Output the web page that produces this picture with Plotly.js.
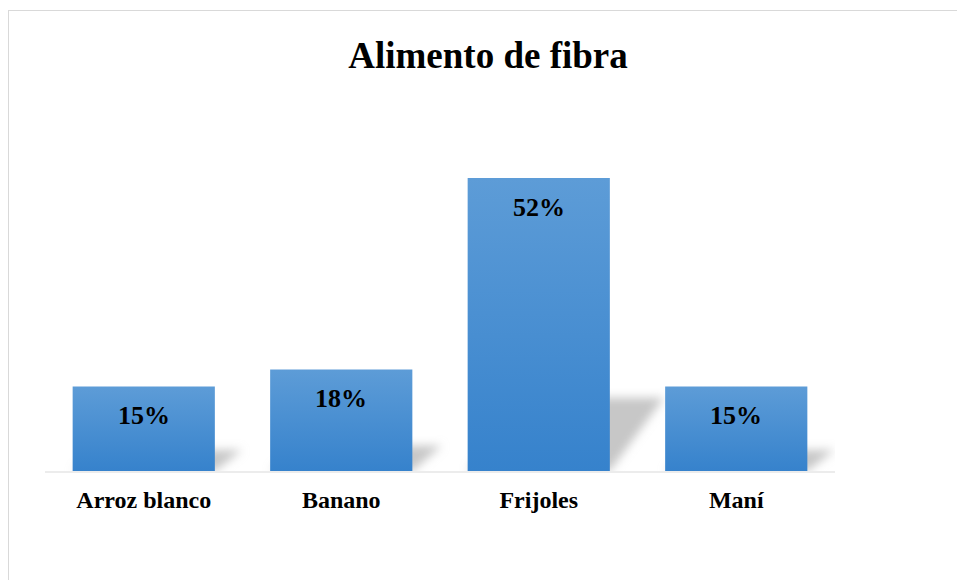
<!DOCTYPE html>
<html>
<head>
<meta charset="utf-8">
<script src="https://cdn.plot.ly/plotly-3.0.1.min.js"></script>
<style>
  html, body { margin: 0; padding: 0; background: #ffffff; }
  #wrap { position: relative; width: 957px; height: 580px; overflow: hidden; }
  #chart { position: absolute; left: 0; top: 0; width: 957px; height: 580px; }
  #frame { position: absolute; left: 8px; top: 10px; width: 980px; height: 620px;
           border: 1px solid #d9d9d9; pointer-events: none; }
</style>
</head>
<body>
<div id="wrap">
  <div id="chart"></div>
  <div id="frame"></div>
</div>
<script>
const categories = ["Arroz blanco", "Banano", "Frijoles", "Maní"];
const values = [15, 18, 52, 15];
const valueLabels = ["15%", "18%", "52%", "15%"];
const chartTitle = "Alimento de fibra";

const serif = "'Liberation Serif', 'Times New Roman', serif";

const trace = {
  type: "bar",
  x: categories,
  y: values,
  marker: { color: "#4a8fd2", line: { width: 0 } },
  hoverinfo: "none"
};

const annotations = categories.map((c, i) => ({
  x: c, y: values[i], xref: "x", yref: "y",
  text: "<b>" + valueLabels[i] + "</b>",
  showarrow: false, yanchor: "middle", yshift: -29,
  font: { family: serif, size: 26, color: "#000000" }
}));

const layout = {
  width: 957, height: 580,
  margin: { l: 45, r: 122, t: 133, b: 109 },
  paper_bgcolor: "#ffffff",
  plot_bgcolor: "#ffffff",
  bargap: 0.28,
  showlegend: false,
  title: {
    text: "<b>" + chartTitle + "</b>",
    x: 488 / 957, xref: "container", xanchor: "center",
    y: 1 - 55 / 580, yref: "container", yanchor: "middle",
    font: { family: serif, size: 37, color: "#000000" }
  },
  xaxis: {
    showline: true, linecolor: "#ececec", linewidth: 2,
    ticks: "", showgrid: false, zeroline: false,
    tickfont: { family: serif, size: 24, color: "#000000" },
    ticklabelstandoff: 6,
    tickprefix: "<b>", ticksuffix: "</b>",
    fixedrange: true
  },
  yaxis: {
    range: [0, 60], visible: false, showgrid: false, zeroline: false,
    fixedrange: true
  },
  annotations: annotations
};

Plotly.newPlot("chart", [trace], layout, { staticPlot: true, displayModeBar: false }).then(gd => {
  const svgNS = "http://www.w3.org/2000/svg";
  const svg = gd.querySelector("svg.main-svg");
  let defs = svg.querySelector("defs");
  if (!defs) { defs = document.createElementNS(svgNS, "defs"); svg.insertBefore(defs, svg.firstChild); }
  const grad = document.createElementNS(svgNS, "linearGradient");
  grad.setAttribute("id", "barGrad");
  grad.setAttribute("x1", "0"); grad.setAttribute("y1", "0");
  grad.setAttribute("x2", "0"); grad.setAttribute("y2", "1");
  [["0%", "#5d9cd7"], ["100%", "#3682cc"]].forEach(([o, c]) => {
    const s = document.createElementNS(svgNS, "stop");
    s.setAttribute("offset", o); s.setAttribute("stop-color", c);
    grad.appendChild(s);
  });
  defs.appendChild(grad);
  const filt = document.createElementNS(svgNS, "filter");
  filt.setAttribute("id", "shBlur");
  filt.setAttribute("x", "-50%"); filt.setAttribute("y", "-50%");
  filt.setAttribute("width", "200%"); filt.setAttribute("height", "200%");
  const blur = document.createElementNS(svgNS, "feGaussianBlur");
  blur.setAttribute("stdDeviation", "5");
  filt.appendChild(blur);
  defs.appendChild(filt);

  const paths = gd.querySelectorAll(".barlayer .point path");
  paths.forEach(p => {
    const bb = p.getBBox();
    const x0 = bb.x, x1 = bb.x + bb.width, bottom = bb.y + bb.height, h = bb.height;
    const dx = 0.13 * h + 16, sh = 0.25 * h;
    const poly = document.createElementNS(svgNS, "polygon");
    poly.setAttribute("points",
      `${x0},${bottom} ${x1},${bottom} ${x1 + dx},${bottom - sh} ${x0 + dx},${bottom - sh}`);
    poly.setAttribute("fill", "#b4b4b4");
    poly.setAttribute("fill-opacity", "0.75");
    poly.setAttribute("filter", "url(#shBlur)");
    const ptGroup = p.parentNode;
    ptGroup.parentNode.insertBefore(poly, ptGroup.parentNode.firstChild);
    p.style.fill = "url(#barGrad)";
  });
});
</script>
</body>
</html>
